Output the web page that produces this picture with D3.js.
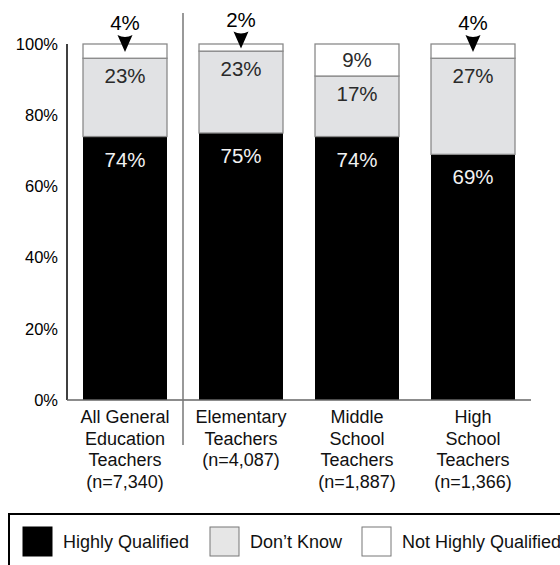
<!DOCTYPE html>
<html>
<head>
<meta charset="utf-8">
<script src="https://cdn.jsdelivr.net/npm/d3@7"></script>
<style>
  html, body { margin: 0; padding: 0; background: #fff; }
  svg { display: block; font-family: "Liberation Sans", Arial, sans-serif; }
</style>
</head>
<body>
<svg id="chart" width="560" height="565"></svg>
<script>
// ---- data ----
const categories = ["All General", "Elementary", "Middle", "High"];
const categoryLabels = [
  ["All General", "Education", "Teachers", "(n=7,340)"],
  ["Elementary", "Teachers", "(n=4,087)"],
  ["Middle", "School", "Teachers", "(n=1,887)"],
  ["High", "School", "Teachers", "(n=1,366)"]
];
const highlyQualified = [74, 75, 74, 69];
const dontKnow = [23, 23, 17, 27];
const notHighlyQualified = [4, 2, 9, 4];
const seriesNames = ["Highly Qualified", "Don\u2019t Know", "Not Highly Qualified"];
const yTicks = [0, 20, 40, 60, 80, 100];

// ---- setup ----
const svg = d3.select("#chart");
const x = d3.scaleBand().domain(categories).range([67, 531])
  .paddingInner(0.276).paddingOuter(0.138);
const y = d3.scaleLinear().domain([0, 100]).range([400, 44]);

const fills = ["#000000", "#e1e2e4", "#ffffff"];
const legendFills = ["#000000", "#e6e6e6", "#ffffff"];

// rounded percentages: Highly Qualified from bottom, Not Highly Qualified from top,
// Don't Know fills the rest
const rows = categories.map((c, i) => ({
  cat: c, hq: highlyQualified[i], dk: dontKnow[i], nhq: notHighlyQualified[i]
}));
const segs = [];
rows.forEach(r => {
  segs.push({ cat: r.cat, s: 0, lo: 0, hi: r.hq });
  segs.push({ cat: r.cat, s: 1, lo: r.hq, hi: 100 - r.nhq });
  segs.push({ cat: r.cat, s: 2, lo: 100 - r.nhq, hi: 100 });
});

// y axis labels
const yAxis = d3.axisLeft(y).tickValues(yTicks).tickSize(0).tickPadding(9)
  .tickFormat(d => d + "%");
const gy = svg.append("g").attr("transform", "translate(67,0)").call(yAxis);
gy.select(".domain").remove();
gy.selectAll("text").attr("font-size", 16.5).attr("fill", "#000")
  .attr("font-family", "'Liberation Sans', Arial, sans-serif");

// bars
svg.append("g").selectAll("rect").data(segs).enter().append("rect")
  .attr("x", d => x(d.cat))
  .attr("width", x.bandwidth())
  .attr("y", d => y(d.hi))
  .attr("height", d => y(d.lo) - y(d.hi))
  .attr("fill", d => fills[d.s])
  .attr("stroke", d => d.s === 0 ? "none" : "#8a8a8a")
  .attr("stroke-width", 1.3);

// axis lines
svg.append("line").attr("x1", 67).attr("x2", 67).attr("y1", y(100)).attr("y2", y(0))
  .attr("stroke", "#000").attr("stroke-width", 1.5);
svg.append("line").attr("x1", 67).attr("x2", 531).attr("y1", y(0)).attr("y2", y(0))
  .attr("stroke", "#666").attr("stroke-width", 1.5);

// separator between first category and others
const sepX = (x(categories[0]) + x.bandwidth() + x(categories[1])) / 2;
svg.append("line").attr("x1", sepX).attr("x2", sepX).attr("y1", 13).attr("y2", 445)
  .attr("stroke", "#777").attr("stroke-width", 1.5);

// value labels
const labG = svg.append("g").attr("text-anchor", "middle").attr("font-size", 20.5);
rows.forEach((r, i) => {
  const cx = x(r.cat) + x.bandwidth() / 2;
  labG.append("text").attr("x", cx).attr("y", y(r.hq) + 30)
    .attr("fill", "#f2f2f2").text(r.hq + "%");
  const dkTop = y(100 - r.nhq);
  labG.append("text").attr("x", cx).attr("y", dkTop + 25)
    .attr("fill", "#2a2a2a").text(r.dk + "%");
  const top = y(100);
  if (r.nhq >= 5) {
    labG.append("text").attr("x", cx).attr("y", top + 23)
      .attr("fill", "#2a2a2a").text(r.nhq + "%");
  } else {
    const tip = (top + dkTop) / 2 + 1;
    const aTop = tip - 17;
    svg.append("path")
      .attr("d", `M${cx - 7.5},${aTop} Q${cx},${aTop + 4} ${cx + 7.5},${aTop} L${cx},${tip} Z`)
      .attr("fill", "#000");
    labG.append("text").attr("x", cx).attr("y", aTop - 5)
      .attr("fill", "#000").text(r.nhq + "%");
  }
});

// category labels
const catG = svg.append("g").attr("text-anchor", "middle").attr("font-size", 18).attr("fill", "#111");
categoryLabels.forEach((lines, i) => {
  const cx = x(categories[i]) + x.bandwidth() / 2;
  lines.forEach((t, j) => {
    catG.append("text").attr("x", cx).attr("y", 423 + j * 21.7).text(t);
  });
});

// legend
svg.append("path").attr("d", "M9,566 L9,514 L562,514")
  .attr("fill", "none").attr("stroke", "#000").attr("stroke-width", 2);
const legendX = [23, 210, 362];
seriesNames.forEach((name, i) => {
  svg.append("rect").attr("x", legendX[i]).attr("y", 527).attr("width", 29).attr("height", 29)
    .attr("fill", legendFills[i]).attr("stroke", i === 0 ? "#000" : "#777").attr("stroke-width", 1);
  svg.append("text").attr("x", legendX[i] + 40).attr("y", 548)
    .attr("font-size", 18).attr("fill", "#111").text(name);
});
</script>
</body>
</html>
